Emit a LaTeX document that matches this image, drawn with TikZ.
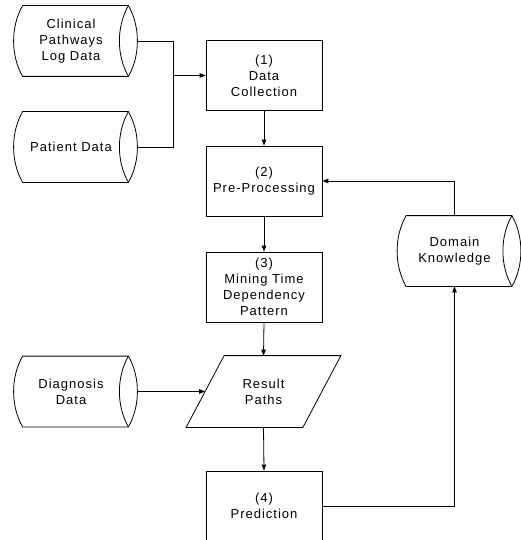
\documentclass[tikz,border=0pt]{standalone}
\usepackage{fontspec}
\setmainfont{Liberation Sans}[LetterSpace=7.7]
\usetikzlibrary{arrows.meta}

\tikzset{
  lbl/.style={font=\fontsize{13}{16}\selectfont, align=center, inner sep=0pt},
  procbox/.style={lbl, draw, minimum width=116pt, minimum height=70pt},
  storebody/.style={lbl, minimum width=114pt, minimum height=70pt},
  iobody/.style={lbl, minimum width=116pt, minimum height=71pt},
  flow/.style={-{Triangle[length=6pt,width=4.5pt]}}
}

% stored-data outline drawn round a plain node: curved left side, lens on the right
\newcommand\storedshape[1]{%
  \draw ([xshift=9pt]#1.north west) -- (#1.north east)
    .. controls +(12pt,-21pt) and +(12pt,21pt) .. (#1.south east)
    -- ([xshift=9pt]#1.south west)
    .. controls +(-12pt,21pt) and +(-12pt,-21pt) .. ([xshift=9pt]#1.north west) -- cycle;
  \draw (#1.north east) .. controls +(-12pt,-21pt) and +(-12pt,21pt) .. (#1.south east);}

\begin{document}
\begin{tikzpicture}[x=1pt, y=-1pt, line width=0.8pt]
\useasboundingbox (0,0) rectangle (521,540);
\clip (0,0) rectangle (521,540);

% data stores
\node[storebody] (clin) at (71,41) {Clinical\\Pathways\\Log Data};
\node[storebody] (pat) at (71,147) {Patient Data};
\node[storebody] (diag) at (71,391.5) {Diagnosis\\Data};
\node[storebody] (dom) at (454.5,251) {Domain\\Knowledge};
\storedshape{clin}
\storedshape{pat}
\storedshape{diag}
\storedshape{dom}

% process steps
\node[procbox] (dc) at (264,75.5) {(1)\\Data\\Collection};
\node[procbox] (pp) at (264,181) {(2)\\Pre-Processing};
\node[procbox] (mine) at (264,287) {(3)\\Mining Time\\Dependency\\Pattern};
\node[iobody] (res) at (263.5,391.5) {Result\\Paths};
\draw ([xshift=19pt]res.north west) -- ([xshift=19pt]res.north east)
  -- ([xshift=-19pt]res.south east) -- ([xshift=-19pt]res.south west) -- cycle;
\node[procbox] (pred) at (264,506) {(4)\\Prediction};

% connectors
\coordinate (join) at (173,75.5);
\draw ([xshift=9pt]clin.east) -| (join);
\draw ([xshift=9pt]pat.east) -| (join);
\draw[flow] (join) -- (dc.west);
\draw[flow] (dc.south) -- (pp.north);
\draw[flow] (pp.south) -- (mine.north);
\draw[flow] (mine.south) -- (res.north);
\draw[flow] (res.south) -- (pred.north);
\draw[flow] ([xshift=9pt]diag.east) -- (res.west);
\draw[flow] (dom.north) |- (pp.east);
\draw[flow] (pred.east) -| (dom.south);
\end{tikzpicture}
\end{document}
